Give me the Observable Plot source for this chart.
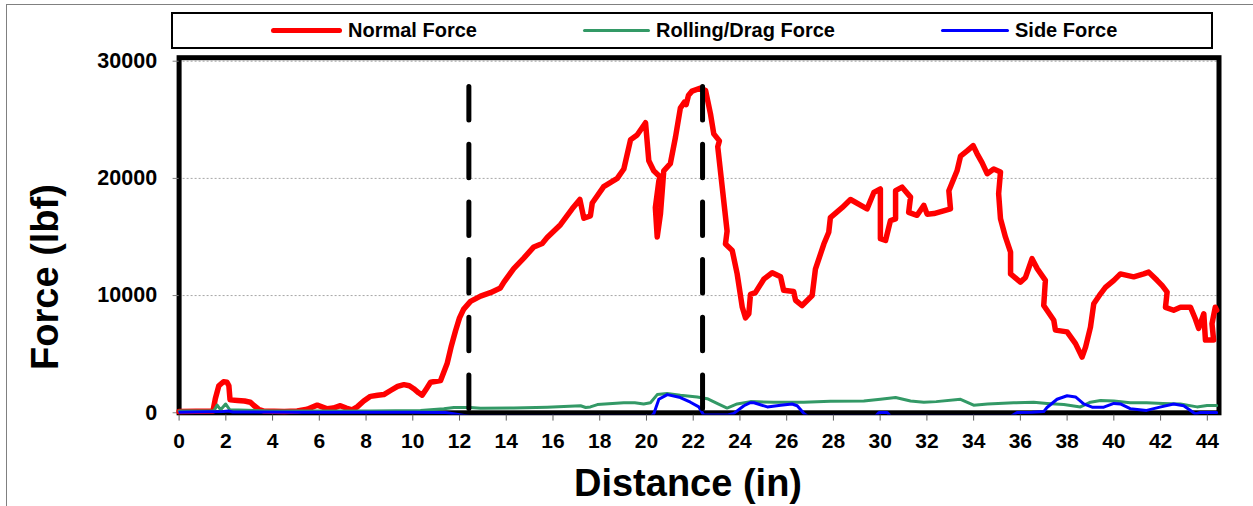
<!DOCTYPE html>
<html><head><meta charset="utf-8">
<script src="https://cdn.jsdelivr.net/npm/d3@7"></script>
<script src="https://cdn.jsdelivr.net/npm/@observablehq/plot@0.6"></script>
<style>
html,body{margin:0;padding:0;background:#fff;overflow:hidden;width:1253px;height:506px}
#wrap{position:relative;width:1253px;height:506px;font-family:"Liberation Sans",Arial,sans-serif;font-weight:bold;color:#000}
#border{position:absolute;left:6px;top:4px;width:1400px;height:700px;border:1.5px solid #808080;box-sizing:border-box}
#legend{position:absolute;left:171px;top:12px;width:1042px;height:37px;border:2px solid #000;box-sizing:border-box;background:#fff}
.item{position:absolute;top:0;height:33px;display:flex;align-items:center;font-size:20px;white-space:nowrap}
.sw{display:inline-block;border-radius:3px;margin-right:6px}
#ytitle{position:absolute;left:45px;top:277px;transform:translate(-50%,-50%) rotate(-90deg);font-size:38px;white-space:nowrap}
#xtitle{position:absolute;left:688px;top:483px;transform:translate(-50%,-50%);font-size:38px;white-space:nowrap}
#chart{position:absolute;left:0;top:0}
</style>
</head><body>
<div id="wrap">
  <div id="border"></div>
  <div id="chart"></div>
  <div id="legend"></div>
  <div id="ytitle">Force (lbf)</div>
  <div id="xtitle">Distance (in)</div>
</div>
<script>
// ---- data ----
const seriesNames = ["Normal Force", "Rolling/Drag Force", "Side Force"];
const seriesColors = ["#FF0000", "#339966", "#0000FF"];
const xTicks = [0,2,4,6,8,10,12,14,16,18,20,22,24,26,28,30,32,34,36,38,40,42,44];
const yTicks = [0,10000,20000,30000];
const gridTicks = [10000,20000,30000];

const normalX = [0,1.45,1.55,1.7,1.9,2.05,2.13,2.18,2.5,2.8,3.05,3.2,3.4,3.62,4.5,5.05,5.48,5.91,6.34,6.6,6.9,7.15,7.4,7.62,7.9,8.19,8.5,8.76,9.05,9.35,9.62,9.85,10.04,10.25,10.4,10.6,10.76,11.19,11.47,11.65,11.83,12.0,12.18,12.47,12.9,13.32,13.75,13.9,14.32,14.75,15.18,15.54,15.75,16.32,16.82,17.15,17.32,17.6,17.68,18.17,18.75,19.03,19.32,19.6,19.96,20.1,20.31,20.6,20.53,20.38,20.46,20.6,20.74,21.02,21.24,21.45,21.62,21.7,21.8,21.95,22.31,22.53,22.74,22.88,23.12,23.05,23.2,23.45,23.38,23.67,23.88,24.1,24.24,24.38,24.45,24.66,25.02,25.38,25.74,25.87,26.3,26.38,26.66,27.09,27.23,27.59,27.8,27.87,28.37,28.73,29.44,29.73,30.01,30.01,30.23,30.44,30.66,30.66,30.94,31.3,31.22,31.58,31.87,32.01,32.3,33.01,32.94,33.29,33.44,33.72,33.98,34.15,34.36,34.58,34.86,35.15,35.07,35.15,35.36,35.58,35.58,36.0,36.22,36.5,36.72,37.07,37.0,37.43,37.5,38.0,38.36,38.64,38.79,39.0,39.14,39.43,39.64,40.0,40.28,40.85,41.28,41.49,41.85,42.07,42.28,42.21,42.56,42.85,43.28,43.49,43.63,43.85,43.92,44.27,44.2,44.34,44.4];
const normalY = [100,150,1200,2300,2650,2600,2300,1100,1050,1000,900,620,300,150,100,150,300,650,340,400,600,400,250,500,1000,1400,1500,1550,1900,2250,2400,2300,2050,1700,1500,2100,2600,2750,4200,5700,7000,8100,8850,9500,9950,10250,10650,11150,12300,13200,14150,14450,14950,16050,17400,18200,16600,16800,17900,19300,20000,20800,23300,23700,24750,21500,20650,20100,19800,17500,15000,17000,20650,21250,23500,26000,26500,26300,27100,27450,27700,27500,25500,23800,23200,22700,20000,15500,14400,13850,11860,9000,8100,8450,10100,10250,11400,11950,11600,10450,10350,9600,9150,10000,12250,14400,15400,16650,17500,18200,17400,18800,19100,14850,14700,16400,16550,18950,19250,18400,17100,16850,17700,16950,17000,17400,18950,20650,21900,22350,22800,22100,21350,20400,20800,20550,18700,16550,15000,13700,11850,11150,11550,13150,12300,11300,9150,7900,7050,6900,5900,4750,5600,7300,9300,10150,10700,11300,11850,11600,11850,12000,11300,10850,10300,9000,8750,9000,9000,8000,7200,8450,6200,6200,7600,9000,8750];

const rollX = [0,1.49,1.63,1.78,1.99,2.17,3.9,8.2,10.33,11.33,11.76,12.47,12.9,14.32,15.75,17.18,17.4,17.6,17.9,19.03,19.5,19.88,20.17,20.46,20.88,21.45,22.17,22.6,23.02,23.45,23.88,24.45,25.45,26.45,26.73,27.87,29.3,30.01,30.66,31.3,31.87,32.4,33.44,34.0,34.6,35.72,36.57,37.14,37.86,38.57,39.0,39.43,40.0,40.7,41.4,42.1,42.85,43.56,43.99,44.4];
const rollY = [150,180,650,250,750,250,150,150,200,340,450,450,380,400,480,600,450,500,700,850,850,750,850,1550,1650,1500,1350,1200,800,400,750,950,900,900,900,990,1000,1150,1300,1000,900,950,1150,650,750,850,900,800,700,500,900,1050,1000,850,850,800,750,500,620,620];

const sideX = [0,1.9,2.1,2.3,5,10,11.4,12.4,20.2,20.31,20.53,20.89,21.45,21.88,22.24,22.45,23.45,23.74,24.17,24.42,24.6,25.17,25.74,26.23,26.45,26.73,26.9,29.8,29.95,30.3,30.45,35.6,35.86,36.5,37.0,37.14,37.57,38.0,38.36,38.71,39.07,39.57,40.0,40.28,40.7,41.4,41.97,42.56,42.99,43.28,43.49,43.7,44.4];
const sideY = [50,100,150,60,50,50,30,-300,-300,-100,1150,1550,1300,900,500,-200,-200,-50,600,850,850,500,650,750,600,-50,-300,-300,30,30,-300,-300,20,50,100,450,1150,1450,1350,750,480,480,800,750,350,200,480,750,600,200,-100,20,20];

const markerX = [12.4, 22.4];
const markerTop = 27800;

// ---- build tables ----
const normal = normalX.map((x, i) => ({x, y: normalY[i]}));
const roll = rollX.map((x, i) => ({x, y: rollY[i]}));
const side = sideX.map((x, i) => ({x, y: sideY[i]}));
const markers = markerX.map(x => ({x, top: markerTop, bottom: 0}));

const font = "'Liberation Sans', Arial, sans-serif";
const chart = Plot.plot({
  width: 1253,
  height: 506,
  marginLeft: 178.6,
  marginRight: 34.5,
  marginTop: 57.2,
  marginBottom: 91.4,
  x: {domain: [0, 44.5]},
  y: {domain: [-200, 30300]},
  style: {fontFamily: font, fontSize: "21px", fontWeight: "bold", background: "transparent", overflow: "visible", color: "#000"},
  marks: [
    Plot.gridY(gridTicks, {stroke: "#a6a6a6", strokeOpacity: 1, strokeDasharray: "2,2", strokeWidth: 1}),
    Plot.frame({stroke: "#000", strokeWidth: 5, insetBottom: 2.3}),
    Plot.axisY(yTicks, {tickSize: 6, tickPadding: 16, stroke: "#808080", label: null, fontSize: 21.5, fontWeight: "bold", fontFamily: font, tickFormat: d => String(d)}),
    Plot.axisX(xTicks, {tickSize: 6, tickPadding: 12, stroke: "#606060", label: null, fontSize: 21, fontWeight: "bold", fontFamily: font, tickFormat: d => String(d)}),
    Plot.line(normal, {x: "x", y: "y", stroke: seriesColors[0], strokeWidth: 5.5, strokeLinejoin: "round", strokeLinecap: "round"}),
    Plot.line(roll, {x: "x", y: "y", stroke: seriesColors[1], strokeWidth: 3, strokeLinejoin: "round"}),
    Plot.line(side, {x: "x", y: "y", stroke: seriesColors[2], strokeWidth: 3, strokeLinejoin: "round", clip: true}),
    Plot.ruleX(markers, {x: "x", y1: "top", y2: "bottom", stroke: "#000", strokeWidth: 5, strokeDasharray: "33.5,24.2", strokeLinecap: "round"})
  ]
});
document.getElementById("chart").appendChild(chart);

// ---- legend ----
const legend = document.getElementById("legend");
const legendLeft = [98, 410, 768];
const swatchW = [71, 67, 68];
const swatchH = [5, 3, 3];
seriesNames.forEach((name, i) => {
  const item = document.createElement("div");
  item.className = "item";
  item.style.left = legendLeft[i] + "px";
  const sw = document.createElement("span");
  sw.className = "sw";
  sw.style.width = swatchW[i] + "px";
  sw.style.height = swatchH[i] + "px";
  sw.style.background = seriesColors[i];
  item.appendChild(sw);
  item.appendChild(document.createTextNode(name));
  legend.appendChild(item);
});
</script>
</body></html>
